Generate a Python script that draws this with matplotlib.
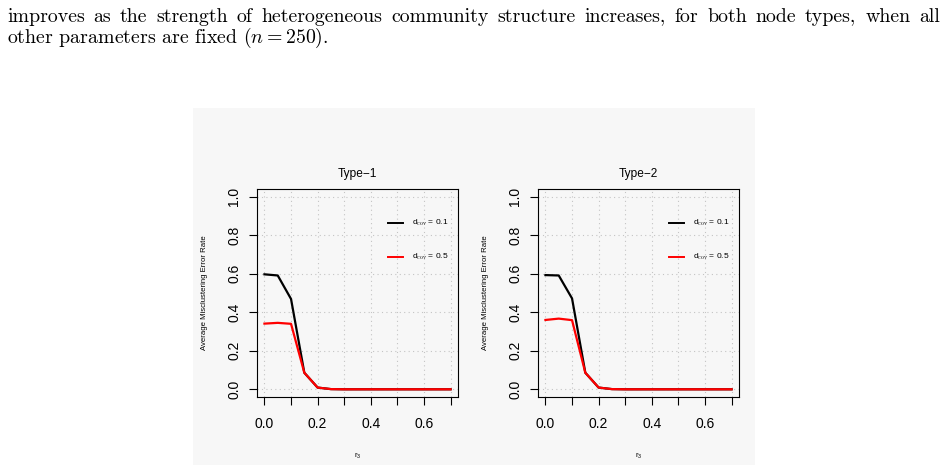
import matplotlib
matplotlib.use("Agg")
import matplotlib.pyplot as plt
from matplotlib.patches import Rectangle

# ---------------- data ----------------
r3 = [0.00, 0.05, 0.10, 0.15, 0.20, 0.25, 0.30, 0.35, 0.40, 0.45, 0.50, 0.55, 0.60, 0.65, 0.70]
type1_d01 = [0.597, 0.591, 0.469, 0.086, 0.009, 0.001, 0.0, 0.0, 0.0, 0.0, 0.0, 0.0, 0.0, 0.0, 0.0]
type1_d05 = [0.341, 0.345, 0.340, 0.086, 0.009, 0.001, 0.0, 0.0, 0.0, 0.0, 0.0, 0.0, 0.0, 0.0, 0.0]
type2_d01 = [0.593, 0.591, 0.472, 0.086, 0.009, 0.001, 0.0, 0.0, 0.0, 0.0, 0.0, 0.0, 0.0, 0.0, 0.0]
type2_d05 = [0.360, 0.367, 0.359, 0.086, 0.009, 0.001, 0.0, 0.0, 0.0, 0.0, 0.0, 0.0, 0.0, 0.0, 0.0]
titles = ["Type\u22121", "Type\u22122"]
legend_labels = [r"d$_{\mathrm{cov}}$ = 0.1", r"d$_{\mathrm{cov}}$ = 0.5"]
x_ticks = [0.0, 0.1, 0.2, 0.3, 0.4, 0.5, 0.6, 0.7]
x_ticklabels = ["0.0", "", "0.2", "", "0.4", "", "0.6", ""]
y_ticks = [0.0, 0.2, 0.4, 0.6, 0.8, 1.0]
y_ticklabels = ["0.0", "0.2", "0.4", "0.6", "0.8", "1.0"]
caption_line1 = "improves as the strength of heterogeneous community structure increases, for both node types, when all"
caption_line2 = r"other parameters are fixed ($\mathit{n} = 250$)."

plt.rcParams['mathtext.fontset'] = 'cm'
plt.rcParams['mathtext.default'] = 'regular'

W, H = 947, 465
fig = plt.figure(figsize=(W / 100, H / 100), dpi=100)
fig.patch.set_facecolor("white")

BG = "#f7f7f7"
fig.patches.append(Rectangle((193 / W, 0), (755 - 193) / W, 1 - 108 / H,
                             transform=fig.transFigure, facecolor=BG,
                             edgecolor="none", zorder=-10))

SANS = "Liberation Sans"

def panel(left_px, ydata_black, ydata_red, title):
    ax = fig.add_axes([left_px / W, (H - 397) / H, 201 / W, 208 / H])
    ax.set_facecolor(BG)
    ax.plot(r3, ydata_black, color="black", lw=1.6, zorder=5)
    ax.plot(r3, ydata_red, color="red", lw=1.6, zorder=6)
    ax.set_xlim(-0.028, 0.728)
    ax.set_ylim(-0.04, 1.04)
    ax.set_xticks(x_ticks)
    ax.set_xticklabels(x_ticklabels, fontsize=10, family=SANS)
    ax.set_yticks(y_ticks)
    ax.set_yticklabels(y_ticklabels, fontsize=10, family=SANS, rotation=90, va="center")
    ax.tick_params(axis="x", length=5.5, width=0.8, pad=9)
    ax.tick_params(axis="y", length=5.5, width=0.8, pad=6)
    for s in ax.spines.values():
        s.set_linewidth(0.8)
        s.set_color("black")
    ax.grid(True, color="#c4c4c4", linestyle=(0, (1, 3)), linewidth=0.8)
    ax.set_axisbelow(True)
    ax.set_title(title, fontsize=8.6, family=SANS, pad=9)
    ax.set_ylabel("Average Misclustering Error Rate", fontsize=5.6, family=SANS, labelpad=14)
    ax.set_xlabel(r"r$_3$", fontsize=5.6, family=SANS, labelpad=14)
    # legend
    for yy, col, lab in [(0.864, "black", legend_labels[0]), (0.688, "red", legend_labels[1])]:
        ax.plot([0.465, 0.521], [yy, yy], color=col, lw=1.4, zorder=7)
        ax.text(0.555, yy, lab, fontsize=6.0, family=SANS, va="center", ha="left", zorder=7)
    return ax

panel(257, type1_d01, type1_d05, titles[0])
panel(538, type2_d01, type2_d05, titles[1])

# caption (justified first line)
CAP_FS = 14.3
renderer = fig.canvas.get_renderer()
words = caption_line1.split(" ")
tmp = [fig.text(0, 0, w, fontsize=CAP_FS, family="cmr10") for w in words]
widths = [t.get_window_extent(renderer).width for t in tmp]
for t in tmp:
    t.remove()
x0, x1 = 7, 940
gap = (x1 - x0 - sum(widths)) / (len(words) - 1)
x = x0
for w, wd in zip(words, widths):
    fig.text(x / W, 1 - 21.6 / H, w, fontsize=CAP_FS, family="cmr10", ha="left", va="baseline")
    x += wd + gap
fig.text(x0 / W, 1 - 42.7 / H, caption_line2, fontsize=CAP_FS, family="cmr10", ha="left", va="baseline")

fig.savefig("out.png", dpi=100, facecolor="white")
